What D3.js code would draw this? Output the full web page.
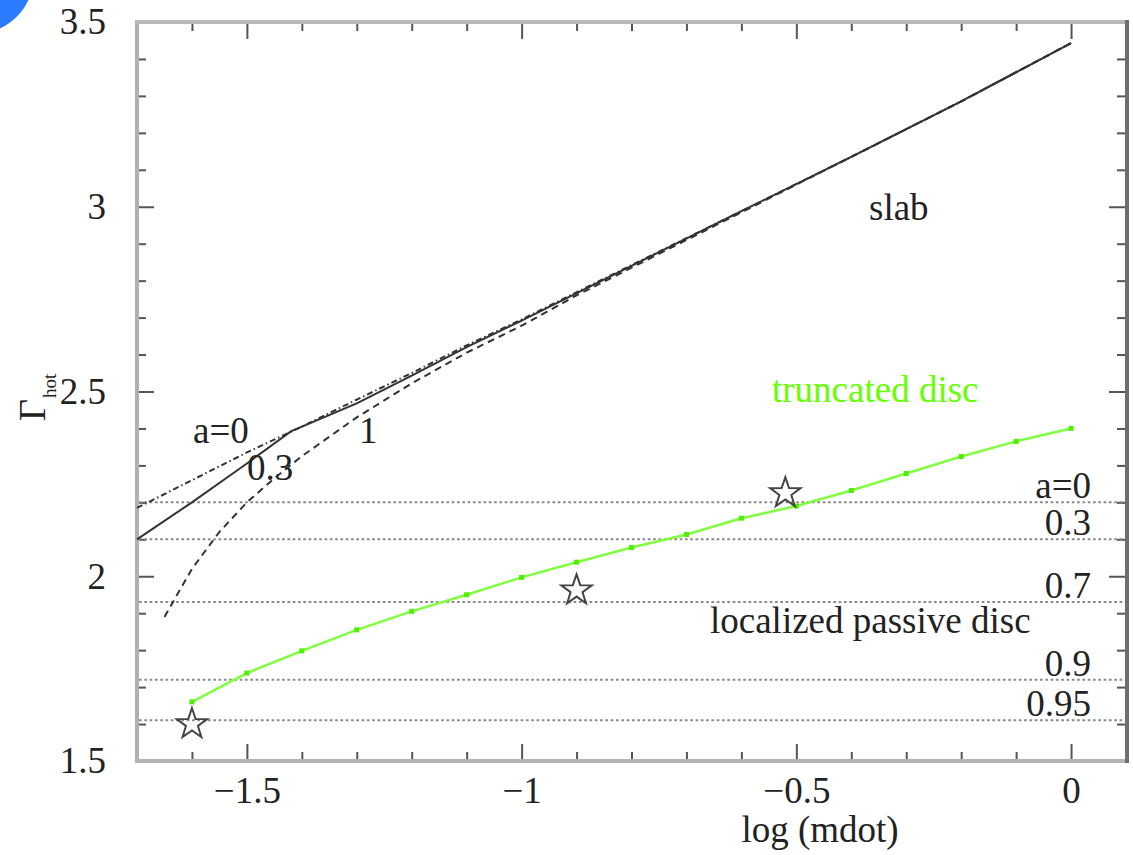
<!DOCTYPE html>
<html>
<head>
<meta charset="utf-8">
<script src="https://cdn.jsdelivr.net/npm/d3@7"></script>
<style>
  body { margin: 0; background: #fff; }
  svg { display: block; }
  svg text {
    font-family: "Liberation Serif", "Times New Roman", Times, Tinos, "Nimbus Roman", "Nimbus Roman No9 L",
                 "Noto Serif", "DejaVu Serif", FreeSerif, Georgia, serif;
    fill: #222;
  }
</style>
</head>
<body>
<svg id="chart" width="1133" height="855"></svg>
<script>
// Slab geometry: photon index vs accretion rate, for three spins
const slabA0X  = [-1.7, -1.6, -1.5, -1.4, -1.3, -1.2, -1.1, -1.0, -0.8, -0.6, -0.4, -0.2, 0];
const slabA0Y  = [2.185, 2.26, 2.335, 2.405, 2.478, 2.55, 2.625, 2.695, 2.842, 2.988, 3.135, 3.285, 3.443];
const slabA03X = [-1.7, -1.6, -1.5, -1.42, -1.3, -1.2, -1.1, -1.0, -0.8, -0.6, -0.4, -0.2, 0];
const slabA03Y = [2.10, 2.2, 2.305, 2.392, 2.468, 2.543, 2.62, 2.692, 2.84, 2.988, 3.135, 3.285, 3.443];
const slabA1X  = [-1.65, -1.6, -1.55, -1.5, -1.45, -1.4, -1.3, -1.2, -1.1, -1.0, -0.9, -0.8, -0.6, -0.4, -0.2, 0];
const slabA1Y  = [1.89, 2.02, 2.12, 2.2, 2.265, 2.325, 2.43, 2.522, 2.605, 2.678, 2.76, 2.835, 2.985, 3.135, 3.285, 3.443];

// Truncated disc
const truncX = [-1.6, -1.5, -1.4, -1.3, -1.2, -1.1, -1.0, -0.9, -0.8, -0.7, -0.6, -0.5, -0.4, -0.3, -0.2, -0.1, 0];
const truncY = [1.66, 1.738, 1.798, 1.855, 1.905, 1.95, 1.997, 2.038, 2.078, 2.113, 2.157, 2.19, 2.232, 2.278, 2.324, 2.365, 2.40];

// Observed points
const starX = [-1.6, -0.9, -0.52];
const starY = [1.60, 1.962, 2.225];

// Localized passive disc levels
const passiveY      = [2.2, 2.1, 1.93, 1.72, 1.61];
const passiveLabels = ["a=0", "0.3", "0.7", "0.9", "0.95"];

// Axis ticks
const xMajor = [-1.5, -1, -0.5, 0];
const yMajor = [1.5, 2, 2.5, 3, 3.5];

const svg = d3.select("#chart");
const frameL = 137, frameR = 1126, frameT = 22, frameB = 761;

const x = d3.scaleLinear().domain([-1.7, 0.1]).range([frameL, frameR]);
const y = d3.scaleLinear().domain([1.5, 3.5]).range([frameB, frameT]);

// corner decoration
svg.append("circle").attr("cx", -25).attr("cy", -25).attr("r", 59).attr("fill", "#2a7bff");

const xMinor = d3.range(-17, 2).map(i => i / 10).filter(v => !xMajor.some(m => Math.abs(m - v) < 1e-9));
const yMinor = d3.range(15, 36).map(i => i / 10).filter(v => !yMajor.some(m => Math.abs(m - v) < 1e-9));

const fmt = d3.format("~g");
const tickColor = "#555";

function styleAxis(g) {
  g.attr("font-family", null).attr("font-size", null);
  g.select(".domain").remove();
  g.selectAll(".tick line").attr("stroke", tickColor).attr("stroke-width", 2);
  g.selectAll(".tick text").attr("font-size", 37).attr("fill", "#222");
}

// minor ticks
svg.append("g").attr("transform", `translate(0,${frameB})`)
  .call(d3.axisBottom(x).tickValues(xMinor).tickSize(-9).tickFormat("")).call(styleAxis);
svg.append("g").attr("transform", `translate(0,${frameT})`)
  .call(d3.axisTop(x).tickValues(xMinor).tickSize(-9).tickFormat("")).call(styleAxis);
svg.append("g").attr("transform", `translate(${frameL},0)`)
  .call(d3.axisLeft(y).tickValues(yMinor).tickSize(-9).tickFormat("")).call(styleAxis);
svg.append("g").attr("transform", `translate(${frameR},0)`)
  .call(d3.axisRight(y).tickValues(yMinor).tickSize(-9).tickFormat("")).call(styleAxis);

// major ticks with labels
svg.append("g").attr("transform", `translate(0,${frameB})`)
  .call(d3.axisBottom(x).tickValues(xMajor).tickSize(-17).tickPadding(16).tickFormat(fmt)).call(styleAxis);
svg.append("g").attr("transform", `translate(0,${frameT})`)
  .call(d3.axisTop(x).tickValues(xMajor).tickSize(-17).tickFormat("")).call(styleAxis);
svg.append("g").attr("transform", `translate(${frameL},0)`)
  .call(d3.axisLeft(y).tickValues(yMajor).tickSize(-17).tickPadding(31).tickFormat(fmt)).call(styleAxis);
svg.append("g").attr("transform", `translate(${frameR},0)`)
  .call(d3.axisRight(y).tickValues(yMajor).tickSize(-17).tickFormat("")).call(styleAxis);

// frame
svg.append("line").attr("x1", frameL).attr("x2", frameL).attr("y1", frameT - 2).attr("y2", frameB + 2)
  .attr("stroke", "#b0b0b0").attr("stroke-width", 4);
svg.append("line").attr("x1", frameL - 2).attr("x2", frameR).attr("y1", frameT).attr("y2", frameT)
  .attr("stroke", "#b8b8b8").attr("stroke-width", 4);
svg.append("line").attr("x1", frameL - 2).attr("x2", frameR).attr("y1", frameB).attr("y2", frameB)
  .attr("stroke", "#b4b4b4").attr("stroke-width", 4);
svg.append("line").attr("x1", frameR + 1).attr("x2", frameR + 1).attr("y1", frameT - 2).attr("y2", frameB + 2)
  .attr("stroke", "#6e6e6e").attr("stroke-width", 4);

// passive disc levels
const plot = svg.append("g");
plot.selectAll("line.level").data(passiveY).join("line").attr("class", "level")
  .attr("x1", frameL + 2).attr("x2", frameR - 1)
  .attr("y1", d => y(d)).attr("y2", d => y(d))
  .attr("stroke", "#8a8a8a").attr("stroke-width", 2).attr("stroke-dasharray", "2.7,2.6");
plot.selectAll("text.level").data(passiveY).join("text").attr("class", "level")
  .attr("x", 1091).attr("y", d => y(d) - 4).attr("text-anchor", "end").attr("font-size", 37)
  .text((d, i) => passiveLabels[i]);

// slab curves
const line = d3.line().x(d => x(d[0])).y(d => y(d[1])).curve(d3.curveLinear);
const slabSeries = [
  { xs: slabA0X,  ys: slabA0Y,  dash: "6,3,1.5,3" },
  { xs: slabA1X,  ys: slabA1Y,  dash: "7,5" },
  { xs: slabA03X, ys: slabA03Y, dash: null }
];
slabSeries.forEach(s => {
  plot.append("path").datum(d3.zip(s.xs, s.ys))
    .attr("d", line).attr("fill", "none").attr("stroke", "#333").attr("stroke-width", 2)
    .attr("stroke-dasharray", s.dash);
});

// truncated disc
const truncPts = d3.zip(truncX, truncY);
plot.append("path").datum(truncPts)
  .attr("d", d3.line().x(d => x(d[0])).y(d => y(d[1])))
  .attr("fill", "none").attr("stroke", "#80ff40").attr("stroke-width", 2.5);
plot.selectAll("rect.tm").data(truncPts).join("rect").attr("class", "tm")
  .attr("x", d => x(d[0]) - 2.5).attr("y", d => y(d[1]) - 2.5)
  .attr("width", 5).attr("height", 5).attr("fill", "#4ef000");

// stars
function starPath(R, r) {
  const pts = [];
  for (let i = 0; i < 10; i++) {
    const a = -Math.PI / 2 + i * Math.PI / 5;
    const rad = i % 2 === 0 ? R : r;
    pts.push([rad * Math.cos(a), rad * Math.sin(a)]);
  }
  return "M" + pts.map(p => p[0].toFixed(2) + "," + p[1].toFixed(2)).join("L") + "Z";
}
plot.selectAll("path.star").data(d3.zip(starX, starY)).join("path").attr("class", "star")
  .attr("d", starPath(16, 6.3))
  .attr("transform", d => `translate(${x(d[0])},${y(d[1])})`)
  .attr("fill", "none").attr("stroke", "#444").attr("stroke-width", 2);

// annotations
const ann = [
  { t: "slab", x: 869, y: 220, c: "#222" },
  { t: "truncated disc", x: 772, y: 402, c: "#66ff00" },
  { t: "localized passive disc", x: 710, y: 633, c: "#222" },
  { t: "a=0", x: 193, y: 443, c: "#222" },
  { t: "0.3", x: 247, y: 480, c: "#222" },
  { t: "1", x: 359, y: 443, c: "#222" }
];
ann.forEach(a => {
  svg.append("text").attr("x", a.x).attr("y", a.y).attr("font-size", 37)
    .style("fill", a.c).text(a.t);
});

// axis titles
svg.append("text").attr("x", 820).attr("y", 842).attr("text-anchor", "middle")
  .attr("font-size", 37).text("log (mdot)");
const yt = svg.append("text").attr("transform", "translate(45,421) rotate(-90)").attr("font-size", 38);
yt.append("tspan").text("Γ");
yt.append("tspan").attr("font-size", 19).attr("dy", 11).attr("dx", 1).text("hot");
</script>
</body>
</html>
